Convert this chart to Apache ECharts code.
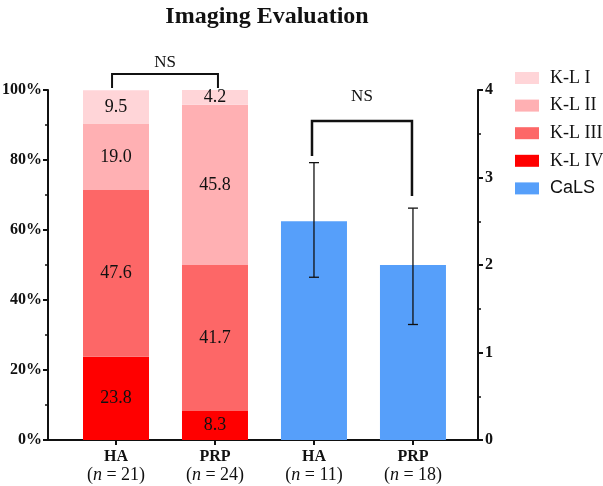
<!DOCTYPE html>
<html><head><meta charset="utf-8">
<script src="https://cdn.jsdelivr.net/npm/echarts@6/dist/echarts.min.js"></script>
<style>html,body{margin:0;padding:0;background:#fff}#c{width:603px;height:486px}</style>
</head><body><div id="c"></div>
<script>
const groups = ['HA', 'PRP', 'HA', 'PRP'];
const groupN = [21, 24, 11, 18];
const klNames = ['K-L IV', 'K-L III', 'K-L II', 'K-L I'];
const klIV = [23.8, 8.3];
const klIII = [47.6, 41.7];
const klII = [19.0, 45.8];
const klI = [9.5, 4.2];
const calsMean = [2.5, 2.0];
const calsLow = [1.86, 1.32];
const calsHigh = [3.17, 2.65];
const leftTicks = [0, 20, 40, 60, 80, 100];
const rightTicks = [0, 1, 2, 3, 4];
// significance brackets: [x1, x2, top, leftBottom, rightBottom]
const sigLeft = [-0.04, 1.03, 104.6, 100.6, 100.6];
const sigRight = [1.98, 2.99, 3.646, 3.246, 2.789];

const serif = 'Liberation Serif';
const colors = {'K-L I': '#FFD5D8', 'K-L II': '#FFB0B3', 'K-L III': '#FD6767', 'K-L IV': '#FF0000', 'CaLS': '#569FFA'};
const klData = {'K-L IV': klIV, 'K-L III': klIII, 'K-L II': klII, 'K-L I': klI};

const barLabel = {
  show: true, position: 'inside', color: '#111', fontFamily: serif, fontSize: 18,
  formatter: p => p.value[0].toFixed(1)
};

// data stored as [value, position] so stacking happens on the value dimension
const series = klNames.map(n => ({
  name: n, type: 'bar', stack: 'kl', xAxisIndex: 0, yAxisIndex: 0,
  barWidth: 66, barGap: '-100%',
  encode: {x: 1, y: 0},
  itemStyle: {color: colors[n]},
  label: barLabel,
  data: klData[n].map((v, i) => [v, i])
}));

series.push({
  name: 'CaLS', type: 'bar', yAxisIndex: 1, barWidth: 66, barGap: '-100%',
  itemStyle: {color: colors['CaLS']},
  data: calsMean.map((v, i) => [i + 2, v])
});

series.push({
  type: 'custom', yAxisIndex: 1, silent: true, z: 10,
  data: calsMean.map((v, i) => [i + 2, calsLow[i], calsHigh[i]]),
  renderItem: (params, api) => {
    const lo = api.coord([api.value(0), api.value(1)]);
    const hi = api.coord([api.value(0), api.value(2)]);
    const w = 5;
    const st = {stroke: '#111', lineWidth: 1.3};
    return {type: 'group', children: [
      {type: 'line', shape: {x1: lo[0], y1: lo[1], x2: hi[0], y2: hi[1]}, style: st},
      {type: 'line', shape: {x1: lo[0] - w, y1: lo[1], x2: lo[0] + w, y2: lo[1]}, style: st},
      {type: 'line', shape: {x1: hi[0] - w, y1: hi[1], x2: hi[0] + w, y2: hi[1]}, style: st}
    ]};
  }
});

function bracketSeries(b, yIdx, lw, textGap) {
  return {
    type: 'custom', yAxisIndex: yIdx, silent: true, z: 10, clip: false,
    data: [b],
    renderItem: (params, api) => {
      const pl = api.coord([api.value(0), api.value(3)]);
      const pr = api.coord([api.value(1), api.value(4)]);
      const tl = api.coord([api.value(0), api.value(2)]);
      const tr = api.coord([api.value(1), api.value(2)]);
      return {type: 'group', children: [
        {type: 'polyline', shape: {points: [pl, tl, tr, pr]}, style: {stroke: '#111', lineWidth: lw, fill: null}},
        {type: 'text', x: (tl[0] + tr[0]) / 2, y: tl[1] - textGap,
          style: {text: 'NS', fontFamily: serif, fontSize: 17, fill: '#111', align: 'center', verticalAlign: 'middle'}}
      ]};
    }
  };
}
series.push(bracketSeries(sigLeft, 0, 2, 11));
series.push(bracketSeries(sigRight, 1, 2.5, 24));

const axisLine = {show: true, onZero: false, lineStyle: {color: '#111', width: 2}};
const axisTick = {show: true, length: 5, lineStyle: {color: '#111', width: 2}};

const chart = echarts.init(document.getElementById('c'));
chart.setOption({
  animation: false,
  title: {
    text: 'Imaging Evaluation', left: 262, top: 0, textAlign: 'center',
    textStyle: {fontFamily: serif, fontWeight: 'bold', fontSize: 24, color: '#111'}
  },
  legend: {
    orient: 'vertical', left: 510, top: 64, itemWidth: 24, itemHeight: 12, itemGap: 9.6,
    icon: 'rect',
    data: ['K-L I', 'K-L II', 'K-L III', 'K-L IV', {name: 'CaLS', textStyle: {fontFamily: 'Liberation Sans', fontSize: 18}}],
    textStyle: {fontFamily: serif, fontSize: 18, color: '#111', padding: [0, 0, 0, 6]}
  },
  grid: {left: 48, right: 125, top: 90, bottom: 46, containLabel: false, outerBoundsMode: 'none'},
  xAxis: {
    type: 'value', min: -0.687, max: 3.657,
    splitLine: {show: false},
    axisLine: axisLine,
    axisTick: Object.assign({}, axisTick, {customValues: [0, 1, 2, 3]}),
    axisLabel: {
      customValues: [0, 1, 2, 3], margin: 7,
      formatter: v => '{b|' + groups[v] + '}\n{p|(}{i|n}{p| = ' + groupN[v] + ')}',
      rich: {
        b: {fontFamily: serif, fontWeight: 'bold', fontSize: 16, color: '#111', lineHeight: 19},
        p: {fontFamily: serif, fontSize: 18, color: '#111', lineHeight: 19},
        i: {fontFamily: serif, fontStyle: 'italic', fontSize: 18, color: '#111', lineHeight: 19}
      }
    }
  },
  yAxis: [{
    type: 'value', min: 0, max: 100, interval: 20, position: 'left',
    splitLine: {show: false},
    axisLine: axisLine, axisTick: axisTick,
    minorTick: {show: true, splitNumber: 2, length: 3, lineStyle: {color: '#111', width: 1.5}},
    axisLabel: {formatter: v => leftTicks.includes(v) ? v + '%' : '', margin: 6,
      fontFamily: serif, fontWeight: 'bold', fontSize: 16, color: '#111'}
  }, {
    type: 'value', min: 0, max: 4, interval: 1, position: 'right',
    splitLine: {show: false},
    axisLine: axisLine, axisTick: axisTick,
    minorTick: {show: true, splitNumber: 2, length: 3, lineStyle: {color: '#111', width: 1.5}},
    axisLabel: {formatter: v => rightTicks.includes(v) ? String(v) : '', margin: 7,
      fontFamily: serif, fontWeight: 'bold', fontSize: 16, color: '#111'}
  }],
  series: series
});
</script></body></html>
